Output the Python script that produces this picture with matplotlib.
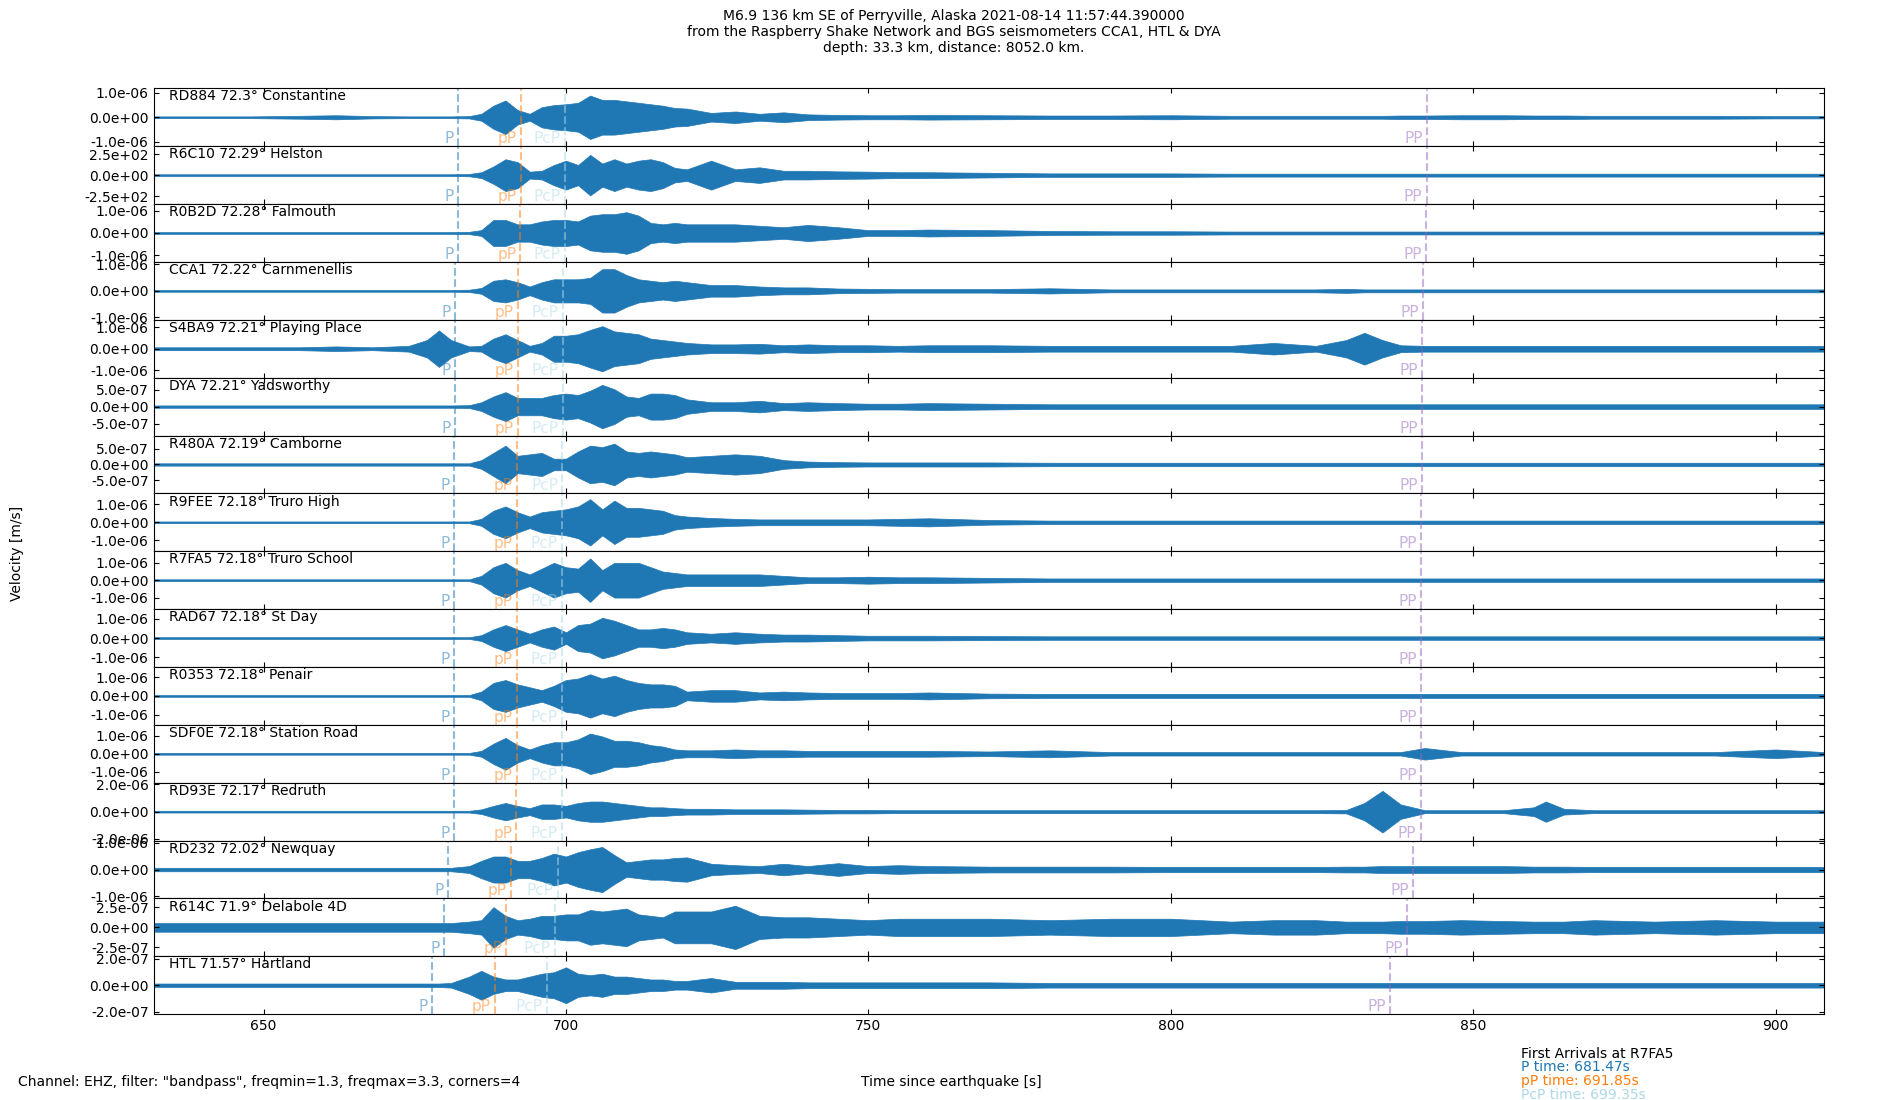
import numpy as np
import matplotlib
matplotlib.use('Agg')
import matplotlib.pyplot as plt
from matplotlib.ticker import FormatStrFormatter

plt.rcParams['font.family'] = 'DejaVu Sans'
plt.rcParams['font.size'] = 10
plt.rcParams['xtick.direction'] = 'in'
plt.rcParams['ytick.direction'] = 'in'
plt.rcParams['xtick.top'] = True
plt.rcParams['ytick.right'] = True

# stations, top to bottom
codes = ['RD884', 'R6C10', 'R0B2D', 'CCA1', 'S4BA9', 'DYA', 'R480A', 'R9FEE',
         'R7FA5', 'RAD67', 'R0353', 'SDF0E', 'RD93E', 'RD232', 'R614C', 'HTL']
dists = ['72.3', '72.29', '72.28', '72.22', '72.21', '72.21', '72.19', '72.18',
         '72.18', '72.18', '72.18', '72.18', '72.17', '72.02', '71.9', '71.57']
names = ['Constantine', 'Helston', 'Falmouth', 'Carnmenellis', 'Playing Place',
         'Yadsworthy', 'Camborne', 'Truro High', 'Truro School', 'St Day', 'Penair',
         'Station Road', 'Redruth', 'Newquay', 'Delabole 4D', 'Hartland']

# max |velocity| per station and the labelled tick value
full_scale = [1.17e-6, 345, 1.3e-6, 1.09e-6, 1.36e-6, 8.5e-7, 9.25e-7, 1.6e-6,
              1.65e-6, 1.5e-6, 1.55e-6, 1.6e-6, 2.12e-6, 1.09e-6, 3.6e-7, 2.2e-7]
tick_val = [1e-6, 250, 1e-6, 1e-6, 1e-6, 5e-7, 5e-7, 1e-6,
            1e-6, 1e-6, 1e-6, 1e-6, 2e-6, 1e-6, 2.5e-7, 2e-7]

# arrival times [s]
p_time = [682.20, 682.14, 682.08, 681.71, 681.65, 681.65, 681.53, 681.47,
          681.47, 681.47, 681.47, 681.47, 681.41, 680.50, 679.77, 677.80]
pp_depth_time = [692.58, 692.52, 692.46, 692.09, 692.03, 692.03, 691.91, 691.85,
                 691.85, 691.85, 691.85, 691.85, 691.79, 690.88, 690.15, 688.18]
pcp_time = [699.84, 699.80, 699.76, 699.51, 699.47, 699.47, 699.39, 699.35,
            699.35, 699.35, 699.35, 699.35, 699.31, 698.69, 698.20, 696.85]
pp_time = [842.40, 842.30, 842.25, 841.70, 841.60, 841.60, 841.50, 841.40,
           841.40, 841.40, 841.40, 841.40, 841.30, 840.00, 839.00, 836.20]

# envelope of each trace (fraction of max |velocity|) at these times
knot_t = [632, 640, 648, 656, 662, 668, 674, 677, 679, 681, 684,
          686, 688, 690, 692, 694, 696, 698, 700, 702, 704, 706, 708, 710, 712, 714, 716, 718, 720,
          724, 728, 732, 736, 740, 745, 750, 755, 760, 770,
          780, 790, 800, 810, 817, 824, 829, 832, 835, 838, 842, 848, 855, 860, 862, 865, 870, 880, 890, 900, 908]

env_rd884 = [.03, .03, .03, .05, .07, .04, .03, .03, .03, .03, .04,
             .12, .4, .58, .25, .12, .35, .42, .45, .5, .75, .6, .6, .55, .5, .45, .4, .32, .3,
             .15, .2, .12, .17, .1, .08, .07, .07, .08, .07,
             .06, .06, .07, .05, .05, .05, .05, .05, .05, .06, .06, .07, .07, .06, .06, .06, .05, .05, .05, .04, .04]
env_r6c10 = [.03, .03, .03, .03, .03, .03, .03, .03, .03, .03, .04,
             .1, .3, .55, .45, .12, .15, .35, .5, .35, .7, .4, .55, .4, .5, .55, .45, .25, .2,
             .5, .2, .27, .15, .15, .13, .12, .1, .1, .08,
             .06, .06, .06, .05, .05, .05, .05, .05, .05, .05, .05, .05, .05, .05, .05, .05, .05, .05, .05, .05, .05]
env_r0b2d = [.03, .03, .03, .03, .03, .03, .03, .03, .03, .03, .04,
             .1, .45, .45, .3, .3, .4, .45, .45, .4, .6, .65, .65, .72, .6, .35, .3, .35, .3,
             .3, .3, .25, .2, .28, .2, .1, .1, .12, .1,
             .07, .06, .06, .05, .05, .05, .05, .05, .05, .05, .05, .05, .05, .05, .05, .05, .05, .05, .05, .05, .05]
env_cca1 = [.03, .03, .03, .03, .03, .03, .03, .03, .03, .03, .04,
            .1, .35, .4, .3, .15, .3, .4, .4, .4, .45, .75, .75, .55, .4, .35, .3, .35, .3,
            .2, .2, .15, .12, .12, .08, .07, .06, .06, .06,
            .09, .05, .05, .05, .05, .05, .07, .05, .05, .05, .05, .05, .05, .05, .05, .05, .05, .05, .05, .05, .05]
env_s4ba9 = [.05, .05, .05, .05, .08, .05, .1, .3, .63, .3, .08,
             .1, .35, .5, .3, .1, .2, .45, .45, .5, .65, .78, .6, .55, .5, .35, .3, .25, .2,
             .15, .15, .17, .12, .15, .12, .12, .1, .12, .12,
             .1, .1, .1, .1, .2, .1, .3, .55, .3, .12, .1, .1, .1, .1, .1, .1, .1, .1, .1, .1, .1]
env_dya = [.04, .04, .04, .04, .04, .04, .04, .04, .04, .04, .05,
           .15, .35, .5, .3, .3, .3, .4, .45, .4, .55, .75, .6, .35, .3, .45, .45, .4, .25,
           .15, .15, .2, .12, .15, .12, .1, .1, .12, .1,
           .08, .08, .08, .08, .08, .08, .08, .08, .08, .08, .08, .08, .08, .08, .08, .08, .08, .08, .08, .08, .08]
env_r480a = [.04, .04, .04, .04, .04, .04, .04, .04, .04, .04, .04,
             .15, .4, .65, .3, .35, .4, .2, .2, .45, .65, .6, .72, .45, .4, .45, .4, .35, .25,
             .3, .35, .3, .15, .1, .08, .07, .07, .07, .07,
             .06, .06, .06, .06, .06, .06, .06, .06, .06, .06, .06, .06, .06, .06, .06, .06, .06, .06, .06, .06, .06]
env_r9fee = [.03, .03, .03, .03, .03, .03, .03, .03, .03, .03, .03,
             .12, .4, .55, .35, .2, .35, .4, .45, .55, .8, .45, .75, .5, .5, .45, .4, .25, .2,
             .15, .12, .1, .1, .1, .1, .1, .12, .14, .08,
             .06, .06, .06, .06, .06, .06, .06, .06, .06, .06, .06, .06, .06, .06, .06, .06, .06, .06, .06, .06, .06]
env_r7fa5 = [.03, .03, .03, .03, .03, .03, .03, .03, .03, .03, .03,
             .15, .45, .6, .35, .2, .4, .6, .45, .4, .75, .35, .6, .6, .6, .45, .3, .25, .2,
             .2, .2, .2, .15, .1, .1, .12, .1, .1, .08,
             .06, .06, .06, .06, .06, .06, .06, .06, .06, .06, .06, .06, .06, .06, .06, .06, .06, .06, .06, .06, .06]
env_rad67 = [.03, .03, .03, .03, .03, .03, .03, .03, .03, .03, .03,
             .1, .3, .45, .3, .15, .3, .4, .2, .45, .5, .7, .6, .45, .3, .3, .35, .3, .2,
             .15, .2, .15, .12, .12, .1, .08, .08, .08, .07,
             .06, .06, .06, .06, .06, .06, .06, .06, .06, .06, .06, .06, .06, .06, .06, .06, .06, .06, .06, .06, .06]
env_r0353 = [.03, .03, .03, .03, .03, .03, .03, .03, .03, .03, .03,
             .15, .45, .55, .4, .3, .2, .35, .55, .6, .75, .6, .7, .55, .45, .4, .4, .35, .15,
             .2, .2, .12, .15, .12, .1, .1, .1, .12, .08,
             .07, .07, .07, .07, .07, .07, .07, .07, .07, .07, .07, .07, .07, .07, .07, .07, .07, .07, .07, .07, .07]
env_sdf0e = [.03, .03, .03, .03, .03, .03, .03, .03, .03, .03, .03,
             .1, .35, .55, .3, .15, .3, .4, .4, .5, .7, .6, .45, .45, .4, .3, .25, .15, .12,
             .12, .15, .12, .12, .1, .1, .1, .1, .1, .08,
             .12, .06, .06, .06, .06, .06, .06, .06, .06, .06, .2, .06, .06, .06, .06, .06, .06, .06, .06, .15, .06]
env_rd93e = [.03, .03, .03, .03, .03, .03, .03, .03, .03, .03, .03,
             .08, .2, .3, .2, .12, .25, .25, .2, .3, .35, .35, .3, .25, .2, .15, .15, .12, .1,
             .1, .08, .08, .08, .07, .06, .06, .05, .05, .05,
             .05, .05, .05, .05, .05, .05, .06, .3, .72, .25, .05, .05, .05, .15, .35, .1, .05, .05, .05, .05, .05]
env_rd232 = [.06, .06, .06, .06, .06, .06, .06, .06, .06, .06, .12,
             .3, .45, .45, .3, .3, .4, .55, .45, .6, .7, .78, .5, .25, .3, .35, .35, .4, .42,
             .2, .15, .12, .2, .12, .22, .12, .15, .12, .1,
             .1, .1, .09, .09, .09, .09, .1, .1, .12, .12, .12, .12, .12, .1, .1, .1, .09, .09, .09, .09, .09]
env_r614c = [.15, .15, .15, .15, .15, .15, .15, .15, .15, .15, .2,
             .25, .7, .4, .25, .3, .4, .4, .45, .45, .6, .55, .6, .65, .45, .4, .35, .55, .55,
             .55, .75, .4, .35, .35, .3, .25, .3, .3, .3,
             .25, .3, .3, .2, .25, .25, .2, .2, .2, .22, .22, .25, .22, .2, .2, .2, .25, .2, .25, .2, .2]
env_htl = [.06, .06, .06, .06, .06, .06, .06, .06, .06, .08, .3,
           .5, .3, .2, .2, .3, .4, .45, .62, .4, .35, .4, .3, .3, .25, .2, .2, .15, .15,
           .25, .12, .12, .12, .1, .1, .1, .1, .1, .1,
           .08, .08, .08, .08, .08, .08, .08, .08, .08, .08, .08, .08, .08, .08, .08, .08, .08, .08, .08, .08, .08]

envelopes = [env_rd884, env_r6c10, env_r0b2d, env_cca1, env_s4ba9, env_dya, env_r480a, env_r9fee,
             env_r7fa5, env_rad67, env_r0353, env_sdf0e, env_rd93e, env_rd232, env_r614c, env_htl]

title = ('M6.9 136 km SE of Perryville, Alaska 2021-08-14 11:57:44.390000\n'
         'from the Raspberry Shake Network and BGS seismometers CCA1, HTL & DYA\n'
         'depth: 33.3 km, distance: 8052.0 km.')

phases = [('P', p_time, 'C0'), ('pP', pp_depth_time, 'C1'),
          ('PcP', pcp_time, 'lightblue'), ('PP', pp_time, 'C4')]

fig, axes = plt.subplots(len(codes), 1, sharex=True, figsize=(19, 11), dpi=100)
fig.subplots_adjust(left=0.0808, right=0.960, top=0.9197, bottom=0.078, hspace=0)

t = np.array(knot_t, dtype=float)
for i, ax in enumerate(axes):
    amp = np.array(envelopes[i]) * full_scale[i]
    ax.fill_between(t, -amp, amp, color='C0', lw=0.5)
    ax.set_ylim(-full_scale[i], full_scale[i])
    ax.set_yticks([-tick_val[i], 0, tick_val[i]])
    ax.yaxis.set_major_formatter(FormatStrFormatter('%.1e'))
    ax.text(0.0092, 0.98, f'{codes[i]} {dists[i]}° {names[i]}', transform=ax.transAxes,
            ha='left', va='top')
    for label, times, col in phases:
        ax.axvline(times[i], color=col, ls='--', lw=1.5, alpha=0.5)
        ax.annotate(label, (times[i], 0), xycoords=('data', 'axes fraction'),
                    xytext=(-3, 0), textcoords='offset points', ha='right', va='bottom',
                    color=col, alpha=0.5, fontsize=11)

axes[-1].set_xlim(631.8, 908.0)
axes[-1].set_xticks([650, 700, 750, 800, 850, 900])

fig.text(0.502, 0.992, title, ha='center', va='top', fontsize=10)
fig.text(0.009, 0.497, 'Velocity [m/s]', rotation=90, ha='center', va='center')
fig.text(0.0095, 0.0162, 'Channel: EHZ, filter: "bandpass", freqmin=1.3, freqmax=3.3, corners=4',
         ha='left', va='center')
fig.text(0.5005, 0.0162, 'Time since earthquake [s]', ha='center', va='center')

fig.text(0.8005, 0.0422, 'First Arrivals at R7FA5', ha='left', va='center', color='black')
fig.text(0.8005, 0.0297, 'P time: 681.47s', ha='left', va='center', color='C0')
fig.text(0.8005, 0.0173, 'pP time: 691.85s', ha='left', va='center', color='C1')
fig.text(0.8005, 0.0048, 'PcP time: 699.35s', ha='left', va='center', color='lightblue')

fig.savefig('out.png', dpi=100)
